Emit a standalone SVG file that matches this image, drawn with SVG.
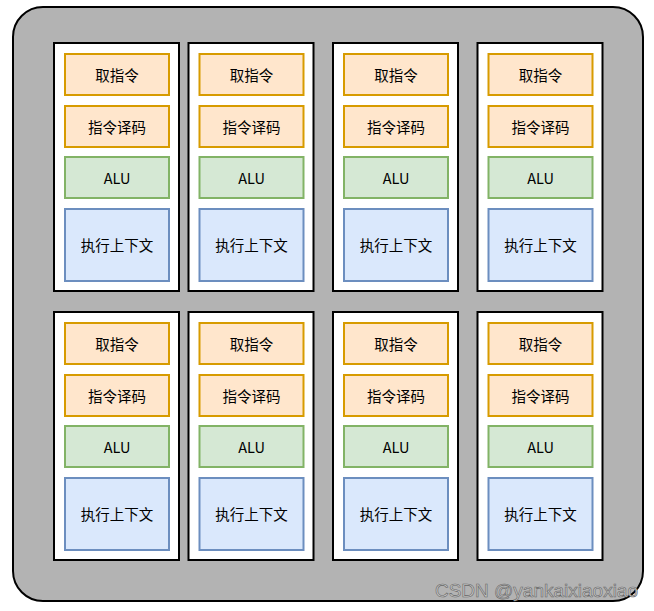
<svg xmlns="http://www.w3.org/2000/svg" width="654" height="611" viewBox="0 0 654 611">
<style>
.outer{fill:#b3b3b3;stroke:#000;stroke-width:2}
.core{fill:#fff;stroke:#000;stroke-width:2}
.o{fill:#ffe6cc;stroke:#d79b00;stroke-width:2}
.g{fill:#d5e8d4;stroke:#82b366;stroke-width:2}
.b{fill:#dae8fc;stroke:#6c8ebf;stroke-width:2}
text{font-family:"Noto Sans CJK SC","Liberation Sans",sans-serif;font-size:14.5px;fill:#000;text-anchor:middle;dominant-baseline:central}
.wm{font-family:"Liberation Sans",sans-serif;font-size:19px;fill:#c8c8c8;stroke:#666;stroke-width:0.6;text-anchor:end;dominant-baseline:auto}
</style>
<defs>
<g id="coreT">
<rect class="core" x="0" y="0" width="125" height="248"/>
<rect class="o" x="11" y="11" width="104" height="41"/>
<text x="63" y="31">取指令</text>
<rect class="o" x="11" y="63" width="104" height="41"/>
<text x="63" y="83">指令译码</text>
<rect class="g" x="11" y="114" width="104" height="41"/>
<text x="63" y="134">ALU</text>
<rect class="b" x="11" y="166" width="104" height="72"/>
<text x="63" y="201.5">执行上下文</text>
</g>
</defs>
<rect id="chip" class="outer" x="13" y="7" width="630" height="594" rx="30" ry="30"/>
<g id="core1"><use href="#coreT" x="54" y="43"/></g>
<g id="core2"><use href="#coreT" x="188.5" y="43"/></g>
<g id="core3"><use href="#coreT" x="333" y="43"/></g>
<g id="core4"><use href="#coreT" x="477.5" y="43"/></g>
<g id="core5"><use href="#coreT" x="54" y="312"/></g>
<g id="core6"><use href="#coreT" x="188.5" y="312"/></g>
<g id="core7"><use href="#coreT" x="333" y="312"/></g>
<g id="core8"><use href="#coreT" x="477.5" y="312"/></g>
<g id="connectors"/>
<text class="wm" x="638" y="597">CSDN @yankaixiaoxiao</text>
</svg>
